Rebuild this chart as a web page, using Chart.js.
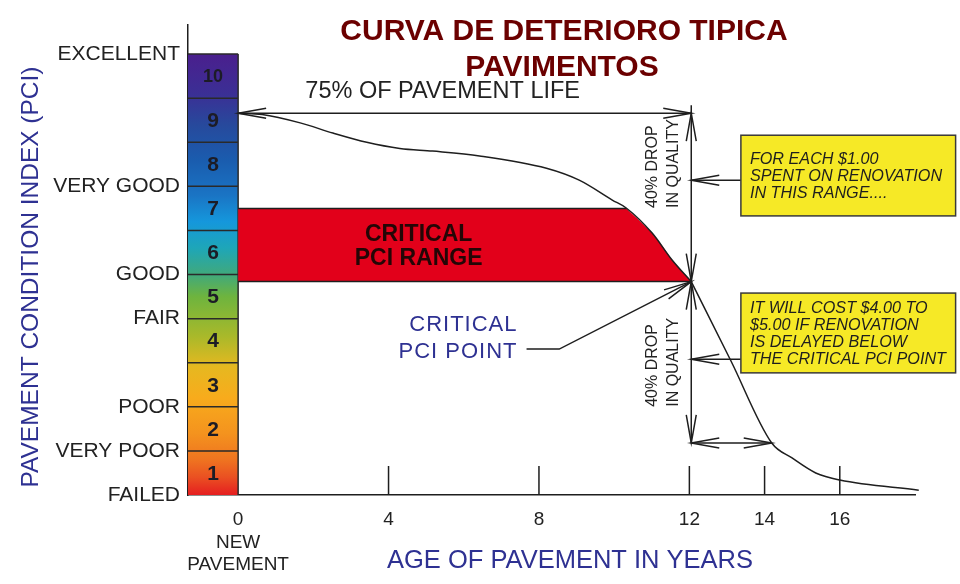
<!DOCTYPE html>
<html>
<head>
<meta charset="utf-8">
<script src="https://cdn.jsdelivr.net/npm/chart.js@4.4.1/dist/chart.umd.min.js"></script>
<style>
  html, body { margin: 0; padding: 0; background: #fff; }
  #wrap { width: 960px; height: 584px; }
</style>
</head>
<body>
<div id="wrap"><canvas id="pciChart" width="960" height="584"></canvas></div>
<script>
// Deterioration curve: age in years vs PCI (0-10 scale)
const curveAge = [0, 0.64, 1.65, 2.52, 3.42, 4.30, 5.17, 6.42, 8.20, 9.07, 9.95, 10.32, 11.01, 11.54, 12.05, 13.10, 14.19, 14.73, 15.36, 16.00, 18.10];
const curvePci = [8.66, 8.63, 8.44, 8.21, 8.00, 7.86, 7.80, 7.69, 7.41, 7.14, 6.69, 6.51, 5.94, 5.33, 4.84, 3.05, 1.18, 0.84, 0.50, 0.34, 0.11];

// Critical PCI range (red band): flat top, then follows the curve down
const rangeAge = [0, 10.32, 10.60, 11.01, 11.30, 11.54, 11.80, 12.05];
const rangeTop = [6.50, 6.50, 6.28, 5.94, 5.63, 5.33, 5.08, 4.84];
const rangeFloor = 4.84;

// Scale of the colour bar
const pciBands = [1, 2, 3, 4, 5, 6, 7, 8, 9, 10];
const yTickValues = [0, 1, 2, 4, 5, 7, 10];
const yTickLabels = ['FAILED', 'VERY POOR', 'POOR', 'FAIR', 'GOOD', 'VERY GOOD', 'EXCELLENT'];
const xTickValues = [0, 4, 8, 12, 14, 16];
const xTickLabels = [['0', 'NEW', 'PAVEMENT'], '4', '8', '12', '14', '16'];

// Key points used by the arrows
const lifePci = 8.66;
const criticalAge = 12.05;
const criticalPci = 4.84;
const dropFloorPci = 1.18;
const dropFloorAge = 14.19;

const xMin = -1.333, xMax = 18, yMin = 0, yMax = 10.66;
const barLeft = xMin, barRight = 0;
const tickMarkHeight = 0.66;

const inkColor = '#1e1e1e';
const blueText = '#2e3192';

function segments(list) {
    // list of [[x1,y1],[x2,y2]] -> points with gaps
    const pts = [];
    list.forEach(s => {
        pts.push({ x: s[0][0], y: s[0][1] });
        pts.push({ x: s[1][0], y: s[1][1] });
        pts.push({ x: s[1][0], y: null });
    });
    return pts;
}

function barGradient(c) {
    const chart = c.chart;
    const ys = chart.scales.y;
    if (!chart.chartArea || !ys) return '#888';
    const g = chart.ctx.createLinearGradient(0, ys.getPixelForValue(10), 0, ys.getPixelForValue(0));
    g.addColorStop(0.00, '#4a1f8d');
    g.addColorStop(0.09, '#3b2f95');
    g.addColorStop(0.16, '#27499c');
    g.addColorStop(0.24, '#1a5cae');
    g.addColorStop(0.32, '#1a74c4');
    g.addColorStop(0.38, '#1597dc');
    g.addColorStop(0.44, '#1ea6b8');
    g.addColorStop(0.50, '#40a97c');
    g.addColorStop(0.55, '#6eb43e');
    g.addColorStop(0.64, '#a9b92a');
    g.addColorStop(0.71, '#e6b820');
    g.addColorStop(0.78, '#f8ab1c');
    g.addColorStop(0.86, '#f4931e');
    g.addColorStop(0.92, '#ef7420');
    g.addColorStop(0.96, '#ea5022');
    g.addColorStop(1.00, '#e51e20');
    return g;
}

function arrowHead(ctx, tipX, tipY, fromX, fromY, len, half) {
    len = len || 28;
    half = half || 5;
    const a = Math.atan2(tipY - fromY, tipX - fromX);
    const bx = tipX - len * Math.cos(a), by = tipY - len * Math.sin(a);
    ctx.beginPath();
    ctx.moveTo(bx + half * Math.sin(a), by - half * Math.cos(a));
    ctx.lineTo(tipX, tipY);
    ctx.lineTo(bx - half * Math.sin(a), by + half * Math.cos(a));
    ctx.stroke();
}

function line(ctx, pts) {
    ctx.beginPath();
    ctx.moveTo(pts[0][0], pts[0][1]);
    for (let i = 1; i < pts.length; i++) ctx.lineTo(pts[i][0], pts[i][1]);
    ctx.stroke();
}

const annotationPlugin = {
    id: 'pciAnnotations',
    afterDatasetsDraw(chart) {
        const { ctx, scales: { x, y } } = chart;
        const px = v => x.getPixelForValue(v);
        const py = v => y.getPixelForValue(v);
        ctx.save();
        ctx.strokeStyle = inkColor;
        ctx.lineWidth = 1.5;

        // numbers in the colour bar
        ctx.fillStyle = '#1c1c26';
        ctx.textAlign = 'center';
        ctx.textBaseline = 'middle';
        pciBands.forEach(b => {
            ctx.font = b === 10 ? 'bold 18px "Liberation Sans", Arial' : 'bold 21px "Liberation Sans", Arial';
            ctx.fillText(String(b), px((barLeft + barRight) / 2), py(b - 0.5) + 1);
        });

        // critical range text
        ctx.fillStyle = '#240606';
        ctx.font = 'bold 23px "Liberation Sans", Arial';
        ctx.fillText('CRITICAL', px(4.8), py(5.90));
        ctx.fillText('PCI RANGE', px(4.8), py(5.36));

        // 75% of pavement life arrow
        line(ctx, [[px(0), py(lifePci)], [px(criticalAge), py(lifePci)]]);
        arrowHead(ctx, px(0), py(lifePci), px(criticalAge), py(lifePci));
        arrowHead(ctx, px(criticalAge), py(lifePci), px(0), py(lifePci));
        ctx.fillStyle = '#222';
        ctx.font = '23.5px "Liberation Sans", Arial';
        ctx.fillText('75% OF PAVEMENT LIFE', px(5.44), py(9.16));

        // vertical 40% drop dimensions
        line(ctx, [[px(criticalAge), py(8.84)], [px(criticalAge), py(dropFloorPci)]]);
        arrowHead(ctx, px(criticalAge), py(lifePci), px(criticalAge), py(criticalPci));
        arrowHead(ctx, px(criticalAge), py(criticalPci), px(criticalAge), py(lifePci));
        arrowHead(ctx, px(criticalAge), py(criticalPci), px(criticalAge), py(dropFloorPci));
        arrowHead(ctx, px(criticalAge), py(dropFloorPci), px(criticalAge), py(criticalPci));

        // horizontal dimension at the bottom of the drop
        line(ctx, [[px(criticalAge), py(dropFloorPci)], [px(dropFloorAge), py(dropFloorPci)]]);
        arrowHead(ctx, px(criticalAge), py(dropFloorPci), px(dropFloorAge), py(dropFloorPci));
        arrowHead(ctx, px(dropFloorAge), py(dropFloorPci), px(criticalAge), py(dropFloorPci));

        // rotated labels
        ctx.font = '16px "Liberation Sans", Arial';
        ctx.textAlign = 'left';
        [[6.51, ['40% DROP', 'IN QUALITY']], [2.0, ['40% DROP', 'IN QUALITY']]].forEach(item => {
            ctx.save();
            ctx.translate(px(11.01), py(item[0]));
            ctx.rotate(-Math.PI / 2);
            ctx.fillText(item[1][0], 0, 0);
            ctx.fillText(item[1][1], 0, 21);
            ctx.restore();
        });

        // leader from critical point label
        line(ctx, [[px(7.67), py(3.31)], [px(8.54), py(3.31)], [px(criticalAge), py(criticalPci)]]);
        arrowHead(ctx, px(criticalAge), py(criticalPci), px(8.54), py(3.31));
        ctx.fillStyle = blueText;
        ctx.textAlign = 'right';
        ctx.font = '22px "Liberation Sans", Arial';
        ctx.letterSpacing = '1px';
        ctx.fillText('CRITICAL', px(7.43), py(3.85));
        ctx.fillText('PCI POINT', px(7.43), py(3.24));
        ctx.letterSpacing = '0px';

        // yellow note boxes with pointer arrows
        const boxes = [
            { top: 8.16, bottom: 6.33, arrow: 7.14, lines: ['FOR EACH $1.00', 'SPENT ON RENOVATION', 'IN THIS RANGE....'] },
            { top: 4.58, bottom: 2.77, arrow: 3.08, lines: ['IT WILL COST $4.00 TO', '$5.00 IF RENOVATION', 'IS DELAYED BELOW', 'THE CRITICAL PCI POINT'] }
        ];
        boxes.forEach(b => {
            const l = px(13.37), r = px(19.08), t = py(b.top), btm = py(b.bottom);
            line(ctx, [[l, py(b.arrow)], [px(criticalAge), py(b.arrow)]]);
            arrowHead(ctx, px(criticalAge), py(b.arrow), l, py(b.arrow));
            ctx.fillStyle = '#f6e926';
            ctx.fillRect(l, t, r - l, btm - t);
            ctx.strokeStyle = '#3a3a3a';
            ctx.strokeRect(l, t, r - l, btm - t);
            ctx.strokeStyle = inkColor;
            ctx.fillStyle = '#1e1e1e';
            ctx.font = 'italic 16.2px "Liberation Sans", Arial';
            ctx.textAlign = 'left';
            ctx.textBaseline = 'middle';
            const lh = 16.7, mid = (t + btm) / 2;
            b.lines.forEach((s, i) => {
                ctx.fillText(s, l + 9, mid + (i - (b.lines.length - 1) / 2) * lh + 1);
            });
        });
        ctx.restore();
    },
    afterDraw(chart) {
        const ctx = chart.ctx;
        ctx.save();
        ctx.textAlign = 'center';
        ctx.textBaseline = 'middle';
        // title
        ctx.fillStyle = '#6b0000';
        ctx.font = 'bold 30px "Liberation Sans", Arial';
        ctx.fillText('CURVA DE DETERIORO TIPICA', 564, 32);
        ctx.fillText('PAVIMENTOS', 562, 68);
        // axis titles
        ctx.fillStyle = blueText;
        ctx.font = '25.5px "Liberation Sans", Arial';
        ctx.fillText('AGE OF PAVEMENT IN YEARS', 570, 561);
        ctx.translate(31, 277);
        ctx.rotate(-Math.PI / 2);
        ctx.font = '24.5px "Liberation Sans", Arial';
        ctx.fillText('PAVEMENT CONDITION INDEX (PCI)', 0, 0);
        ctx.restore();
    }
};

// split the curve at the critical point so the bend stays sharp
const critIndex = curveAge.indexOf(criticalAge);
const curvePoints = curveAge.map((a, i) => ({ x: a, y: curvePci[i] }));

const ctx = document.getElementById('pciChart');
new Chart(ctx, {
    type: 'scatter',
    data: {
        datasets: [
            {
                label: 'Deterioration curve (before critical point)',
                data: curvePoints.slice(0, critIndex + 1),
                showLine: true,
                borderColor: inkColor,
                borderWidth: 1.5,
                pointRadius: 0,
                cubicInterpolationMode: 'monotone',
                order: 0
            },
            {
                label: 'Deterioration curve (after critical point)',
                data: curvePoints.slice(critIndex),
                showLine: true,
                borderColor: inkColor,
                borderWidth: 1.5,
                pointRadius: 0,
                cubicInterpolationMode: 'monotone',
                clip: false,
                order: 0
            },
            {
                label: 'Critical PCI range',
                data: rangeAge.map((a, i) => ({ x: a, y: rangeTop[i] })),
                showLine: true,
                fill: { value: rangeFloor },
                backgroundColor: '#e2001a',
                borderWidth: 0,
                pointRadius: 0,
                tension: 0,
                order: 1
            },
            {
                label: 'Range edges',
                data: segments([
                    [[0, rangeFloor], [criticalAge, rangeFloor]],
                    [[0, rangeTop[0]], [rangeAge[1], rangeTop[1]]]
                ]),
                showLine: true,
                borderColor: inkColor,
                borderWidth: 1.5,
                pointRadius: 0,
                order: 0
            },
            {
                label: 'Band separators',
                data: segments(pciBands.map(b => [[barLeft, b], [barRight, b]]).concat([[[barRight, 0], [barRight, 10]]])),
                showLine: true,
                borderColor: '#2a2a2a',
                borderWidth: 1.5,
                pointRadius: 0,
                order: 3
            },
            {
                label: 'PCI scale',
                data: [{ x: barLeft, y: 10 }, { x: barRight, y: 10 }],
                showLine: true,
                fill: { value: 0 },
                backgroundColor: barGradient,
                borderWidth: 0,
                pointRadius: 0,
                order: 4
            },
            {
                label: 'Tick marks',
                data: segments(xTickValues.filter(v => v > 0).map(v => [[v, 0], [v, tickMarkHeight]])),
                showLine: true,
                borderColor: inkColor,
                borderWidth: 1.5,
                pointRadius: 0,
                order: 5
            }
        ]
    },
    options: {
        responsive: false,
        animation: false,
        layout: { padding: { top: 25, right: 45, left: 0, bottom: 0 } },
        plugins: {
            legend: { display: false },
            tooltip: { enabled: false }
        },
        scales: {
            x: {
                type: 'linear',
                min: xMin,
                max: xMax,
                grid: { display: false },
                border: { display: true, color: inkColor, width: 1.5 },
                afterBuildTicks: s => { s.ticks = xTickValues.map(v => ({ value: v })); },
                afterFit: s => { s.height = 89; },
                ticks: {
                    padding: 6,
                    color: '#222',
                    font: { family: '"Liberation Sans", Arial', size: 19, lineHeight: 1.18 },
                    maxRotation: 0,
                    autoSkip: false,
                    callback: v => xTickLabels[xTickValues.indexOf(v)]
                }
            },
            y: {
                type: 'linear',
                min: yMin,
                max: yMax,
                grid: { display: false },
                border: { display: true, color: inkColor, width: 1.5 },
                afterBuildTicks: s => { s.ticks = yTickValues.map(v => ({ value: v })); },
                afterFit: s => { s.width = 188; },
                ticks: {
                    padding: 0,
                    color: '#222',
                    font: { family: '"Liberation Sans", Arial', size: 21 },
                    autoSkip: false,
                    callback: v => yTickLabels[yTickValues.indexOf(v)]
                }
            }
        }
    },
    plugins: [annotationPlugin]
});
</script>
</body>
</html>
